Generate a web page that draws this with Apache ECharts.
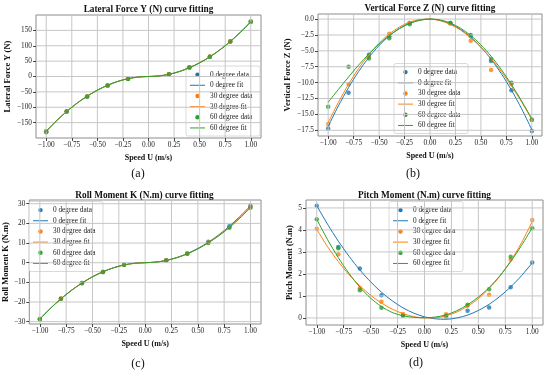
<!DOCTYPE html>
<html>
<head>
<meta charset="utf-8">
<script src="https://cdn.jsdelivr.net/npm/echarts@6/dist/echarts.min.js"></script>
<style>html,body{margin:0;padding:0;background:#fff}#c{width:550px;height:373px}</style>
</head>
<body>
<div id="c"></div>
<script>
// ---- data ----
var xData = [-1, -0.8, -0.6, -0.4, -0.2, 0.2, 0.4, 0.6, 0.8, 1];
var xFit = [-1, -0.9, -0.8, -0.7, -0.6, -0.5, -0.4, -0.3, -0.2, -0.1, 0, 0.1, 0.2, 0.3, 0.4, 0.5, 0.6, 0.7, 0.8, 0.9, 1];
var xTicks = [-1, -0.75, -0.5, -0.25, 0, 0.25, 0.5, 0.75, 1];

// (a) Lateral Force Y
var aData0 = [-181, -114, -66, -29, -7, 7, 29, 64, 114, 178];
var aData30 = [-178, -113, -65, -29, -7, 7, 29, 65, 115, 180];
var aData60 = [-179, -114, -65, -29, -8, 7, 29, 64, 114, 177];
var aFit0 = [-179, -144, -114, -87, -64, -44.5, -28.5, -16, -7.1, -1.8, 0, 1.8, 7.1, 16, 28.5, 44.5, 64, 87, 114, 144, 178];
var aFit30 = [-178, -144, -114, -87, -64, -44.5, -28.5, -16, -7.1, -1.8, 0, 1.8, 7.1, 16, 28.5, 44.6, 64.2, 87.3, 114.5, 145, 179];
var aFit60 = [-178, -144, -114, -87, -64, -44.5, -28.5, -16, -7.1, -1.8, 0, 1.8, 7.1, 16, 28.5, 44.4, 63.9, 86.9, 113.8, 144, 177];
var aTicks = [-150, -100, -50, 0, 50, 100, 150];

// (b) Vertical Force Z
var bData0 = [-17.2, -11.6, -5.6, -2.7, -0.6, -0.6, -2.5, -6.6, -11.2, -17.6];
var bData30 = [-16.5, -10.2, -5.9, -2.3, -0.6, -0.7, -3.4, -8.0, -10.2, -15.8];
var bData60 = [-13.8, -7.5, -6.2, -3.0, -0.8, -0.6, -2.7, -6.3, -10.0, -15.9];
var bFit0 = [-16.9, -13.67, -10.78, -8.23, -6.02, -4.16, -2.64, -1.47, -0.64, -0.15, 0, -0.20, -0.74, -1.62, -2.84, -4.41, -6.32, -8.58, -11.18, -14.12, -17.4];
var bFit30 = [-16.3, -13.11, -10.26, -7.75, -5.60, -3.80, -2.34, -1.24, -0.48, -0.07, 0, -0.26, -0.84, -1.74, -2.94, -4.44, -6.21, -8.25, -10.54, -13.06, -15.8];
var bFit60 = [-13.1, -11.08, -9.11, -7.22, -5.48, -3.92, -2.59, -1.50, -0.69, -0.19, 0, -0.14, -0.62, -1.44, -2.59, -4.06, -5.85, -7.94, -10.30, -12.89, -15.7];
var bTicks = [-17.5, -15, -12.5, -10, -7.5, -5, -2.5, 0];

// (c) Roll Moment K
var cData0 = [-28.7, -18.3, -10.3, -4.7, -1.1, 1.2, 4.7, 10.6, 18.5, 29.0];
var cData30 = [-28.6, -18.2, -10.3, -4.7, -1.1, 1.2, 4.7, 10.3, 18.2, 28.4];
var cData60 = [-28.9, -18.3, -10.4, -4.8, -1.1, 1.1, 4.6, 10.0, 17.8, 28.0];
var cFit0 = [-28.7, -23.3, -18.4, -14.1, -10.4, -7.2, -4.6, -2.6, -1.15, -0.29, 0, 0.3, 1.16, 2.6, 4.65, 7.25, 10.45, 14.2, 18.6, 23.5, 29.0];
var cFit30 = [-28.6, -23.2, -18.3, -14.0, -10.3, -7.15, -4.58, -2.57, -1.14, -0.29, 0, 0.29, 1.14, 2.56, 4.56, 7.1, 10.25, 13.9, 18.2, 23.0, 28.4];
var cFit60 = [-28.8, -23.3, -18.4, -14.1, -10.35, -7.18, -4.6, -2.58, -1.14, -0.29, 0, 0.28, 1.12, 2.52, 4.48, 7.0, 10.08, 13.7, 17.9, 22.7, 28.0];
var cTicks = [-30, -20, -10, 0, 10, 20, 30];

// (d) Pitch Moment
var dData0 = [5.1, 3.22, 2.25, 1.03, 0.12, 0.1, 0.33, 0.47, 1.39, 2.52];
var dData30 = [4.05, 2.9, 1.35, 0.74, 0.18, 0.17, 0.55, 1.06, 2.66, 4.45];
var dData60 = [4.48, 3.17, 1.26, 0.46, 0.1, 0.07, 0.6, 1.31, 2.78, 4.08];
var dFit0 = [5.10, 4.26, 3.49, 2.80, 2.18, 1.64, 1.17, 0.78, 0.46, 0.22, 0.05, -0.04, -0.06, 0.00, 0.13, 0.34, 0.62, 0.98, 1.41, 1.92, 2.50];
var dFit30 = [4.03, 3.24, 2.56, 1.96, 1.46, 1.03, 0.68, 0.40, 0.20, 0.06, 0, 0.01, 0.10, 0.27, 0.53, 0.88, 1.34, 1.90, 2.59, 3.41, 4.38];
var dFit60 = [4.48, 3.56, 2.74, 2.02, 1.40, 0.90, 0.52, 0.25, 0.10, 0.03, 0.01, 0.04, 0.14, 0.33, 0.60, 0.95, 1.38, 1.92, 2.56, 3.29, 4.10];
var dTicks = [0, 1, 2, 3, 4, 5];

var seriesNames = ['0 degree data', '0 degree fit', '30 degree data', '30 degree fit', '60 degree data', '60 degree fit'];
var colors = ['#1f77b4', '#ff7f0e', '#2ca02c'];
var titles = ['Lateral Force Y (N) curve fitting', 'Vertical Force Z (N) curve fitting', 'Roll Moment K (N.m) curve fitting', 'Pitch Moment (N.m) curve fitting'];
var yNames = ['Lateral Force Y (N)', 'Vertical Force Z (N)', 'Roll Moment K (N.m)', 'Pitch Moment (N.m)'];
var xName = 'Speed U (m/s)';
var panelLabels = ['(a)', '(b)', '(c)', '(d)'];

// ---- build ----
var FONT = '"Liberation Serif", "Times New Roman", serif';
var GRIDC = '#c6c6c6';
function minus(s) { return String(s).replace('-', '\u2212'); }
var grids = [
  {left: 36, top: 15, width: 225, height: 123},
  {left: 318, top: 14, width: 224, height: 122},
  {left: 28, top: 200, width: 233, height: 124},
  {left: 306, top: 200, width: 237, height: 125}
];
var xRange = [-1.1, 1.1];
var yRanges = [[-200, 200], [-18.4, 0.8], [-31.2, 31.9], [-0.32, 5.36]];
var yTickSets = [aTicks, bTicks, cTicks, dTicks];
var yDec = [0, 1, 0, 0];
var yNameGaps = [24, 26, 19, 12];
var panels = [
  [aData0, aFit0, aData30, aFit30, aData60, aFit60],
  [bData0, bFit0, bData30, bFit30, bData60, bFit60],
  [cData0, cFit0, cData30, cFit30, cData60, cFit60],
  [dData0, dFit0, dData30, dFit30, dData60, dFit60]
];
var legendPos = [[186, 66], [394, 63.5], [29, 201.5], [389, 201.5]];
var titlePos = [[148.5, 10], [430, 9], [144.5, 196], [424.5, 195.5]];
var labelPos = [[138, 174], [413, 174], [138, 364], [416, 363]];

var gridsOpt = [], xAxes = [], yAxes = [], series = [], graphics = [];
grids.forEach(function (g, i) {
  gridsOpt.push({left: g.left, top: g.top, width: g.width, height: g.height, show: true, borderColor: '#8c8c8c', borderWidth: 1, containLabel: false});
  xAxes.push({
    type: 'value', gridIndex: i, min: xRange[0], max: xRange[1],
    axisLine: {show: false, onZero: false},
    axisTick: {show: true, length: 3, lineStyle: {color: '#444', width: 1}, customValues: xTicks},
    axisLabel: {customValues: xTicks, fontFamily: FONT, fontSize: 7.3, color: '#222', margin: 4,
      formatter: function (v) { return minus(v.toFixed(2)); }},
    splitLine: {show: false},
    name: xName, nameLocation: 'middle', nameGap: 16,
    nameTextStyle: {fontFamily: FONT, fontWeight: 'bold', fontSize: 8, color: '#111'}
  });
  var yt = yTickSets[i], dec = yDec[i], yr = yRanges[i];
  yAxes.push({
    type: 'value', gridIndex: i, min: yr[0], max: yr[1],
    axisLine: {show: false, onZero: false},
    axisTick: {show: true, length: 3, lineStyle: {color: '#444', width: 1}, customValues: yt},
    axisLabel: {customValues: yt, fontFamily: FONT, fontSize: 7.3, color: '#222', margin: 4,
      formatter: function (v) { return minus(v.toFixed(dec)); }},
    splitLine: {show: false},
    name: yNames[i], nameLocation: 'middle', nameGap: yNameGaps[i], nameRotate: 90,
    nameTextStyle: {fontFamily: FONT, fontWeight: 'bold', fontSize: 8.5, color: '#111'}
  });
  // grid lines at the tick values: one two-point line per tick
  xTicks.forEach(function (v) {
    series.push({type: 'line', name: 'gx' + i + '_' + v, xAxisIndex: i, yAxisIndex: i, data: [[v, yr[0]], [v, yr[1]]],
      showSymbol: false, silent: true, lineStyle: {color: GRIDC, width: 1}});
  });
  yt.forEach(function (v) {
    series.push({type: 'line', name: 'gy' + i + '_' + v, xAxisIndex: i, yAxisIndex: i, data: [[xRange[0], v], [xRange[1], v]],
      showSymbol: false, silent: true, lineStyle: {color: GRIDC, width: 1}});
  });
  panels[i].forEach(function (arr, k) {
    var col = colors[Math.floor(k / 2)];
    if (k % 2 === 0) {
      series.push({
        type: 'scatter', name: seriesNames[k], xAxisIndex: i, yAxisIndex: i,
        data: xData.map(function (x, j) { return [x, arr[j]]; }),
        symbol: 'circle', symbolSize: 4.5, itemStyle: {color: col}
      });
    } else {
      series.push({
        type: 'line', name: seriesNames[k], xAxisIndex: i, yAxisIndex: i,
        data: xFit.map(function (x, j) { return [x, arr[j]]; }),
        smooth: 0.3, showSymbol: false, lineStyle: {color: col, width: 1}, itemStyle: {color: col}
      });
    }
  });
  // legend box (drawn as graphic group)
  var items = [{type: 'rect', shape: {x: 0, y: 0, width: 74, height: 70, r: 2},
    style: {fill: 'rgba(255,255,255,0.85)', stroke: '#d0d0d0', lineWidth: 0.8}}];
  seriesNames.forEach(function (n, k) {
    var cy = 8.6 + k * 10.67, col = colors[Math.floor(k / 2)];
    if (k % 2 === 0) {
      items.push({type: 'circle', shape: {cx: 11.5, cy: cy, r: 2.2}, style: {fill: col}});
    } else {
      items.push({type: 'line', shape: {x1: 4, y1: cy, x2: 19, y2: cy}, style: {stroke: col, lineWidth: 1}});
    }
    items.push({type: 'text', x: 24, y: cy, style: {text: n, fontFamily: FONT, fontSize: 7.3, fill: '#222',
      align: 'left', verticalAlign: 'middle', textAlign: 'left', textVerticalAlign: 'middle'}});
  });
  graphics.push({type: 'group', x: legendPos[i][0], y: legendPos[i][1], z: 50, silent: true, children: items});
  graphics.push({type: 'text', x: titlePos[i][0], y: titlePos[i][1], z: 100,
    style: {text: titles[i], fontFamily: FONT, fontWeight: 'bold', fontSize: 9.3, fill: '#111',
      align: 'center', verticalAlign: 'middle', textAlign: 'center', textVerticalAlign: 'middle'}});
  graphics.push({type: 'text', x: labelPos[i][0], y: labelPos[i][1], z: 100,
    style: {text: panelLabels[i], fontFamily: FONT, fontSize: 12, fill: '#111',
      align: 'center', verticalAlign: 'middle', textAlign: 'center', textVerticalAlign: 'middle'}});
});

var chart = echarts.init(document.getElementById('c'));
chart.setOption({
  animation: false,
  grid: gridsOpt, xAxis: xAxes, yAxis: yAxes, series: series, graphic: graphics
});
</script>
</body>
</html>
